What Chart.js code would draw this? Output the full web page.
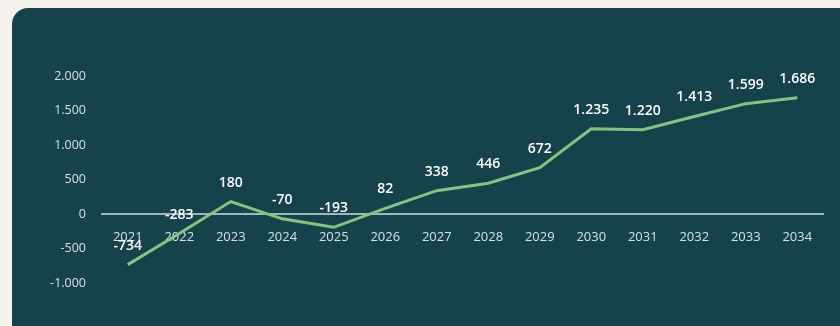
<!DOCTYPE html>
<html lang="de">
<head>
<meta charset="utf-8">
<title>Saldo 2021–2034</title>
<script src="https://cdn.jsdelivr.net/npm/chart.js@4/dist/chart.umd.min.js"></script>
<style>
    html, body {
        margin: 0;
        padding: 0;
        width: 840px;
        height: 326px;
        overflow: hidden;
        background: #f5f3ec;
    }
    /* dunkle Karte hinter dem Diagramm */
    .card {
        position: absolute;
        left: 12px;
        top: 8px;
        width: 860px;
        height: 340px;
        border-radius: 16px;
        background: #16424c;
    }
    #saldoChart {
        position: absolute;
        left: 0;
        top: 0;
    }
</style>
</head>
<body>
<div class="card"></div>
<canvas id="saldoChart" width="840" height="326"></canvas>

<script>
// Daten
const years = ['2021', '2022', '2023', '2024', '2025', '2026', '2027', '2028', '2029', '2030', '2031', '2032', '2033', '2034'];
const saldo = [-734, -283, 180, -70, -193, 82, 338, 446, 672, 1235, 1220, 1413, 1599, 1686];
const yTicks = [-1000, -500, 0, 500, 1000, 1500, 2000];

// Zahlen mit Punkt als Tausendertrennzeichen
const fmt = v => v.toLocaleString('de-DE');

// Werte über die Punkte schreiben
const valueLabels = {
    id: 'valueLabels',
    afterDatasetsDraw(chart) {
        const ctx = chart.ctx;
        const meta = chart.getDatasetMeta(0);
        ctx.save();
        ctx.fillStyle = '#ffffff';
        ctx.font = '600 14px "Open Sans"';
        ctx.textAlign = 'center';
        ctx.textBaseline = 'middle';
        meta.data.forEach((pt, i) => {
            ctx.fillText(fmt(saldo[i]), pt.x, pt.y - 19);
        });
        ctx.restore();
    }
};

const chartEl = document.getElementById('saldoChart');

new Chart(chartEl, {
    type: 'line',
    data: {
        labels: years,
        datasets: [{
            data: saldo,
            borderColor: '#84c380',
            borderWidth: 3,
            pointRadius: 0,
            tension: 0
        }]
    },
    options: {
        responsive: false,
        animation: false,
        layout: {
            padding: { left: 0, right: 17, top: 76, bottom: 43 }
        },
        plugins: {
            legend: { display: false },
            tooltip: { enabled: false }
        },
        scales: {
            x: {
                position: { y: 0 }, // Achse auf der Nulllinie
                offset: true,
                grid: { display: false, drawTicks: false },
                border: { display: true, color: '#9fb6bc', width: 2 },
                ticks: {
                    color: '#d6e0e2',
                    padding: 15,
                    maxRotation: 0,
                    font: { family: 'Open Sans', size: 13 }
                }
            },
            y: {
                min: yTicks[0],
                max: yTicks[yTicks.length - 1],
                afterFit(scale) {
                    scale.width = 102; // feste Breite für die Achsenbeschriftung
                },
                afterBuildTicks(scale) {
                    scale.ticks = yTicks.map(v => ({ value: v }));
                },
                grid: { display: false, drawTicks: false },
                border: { display: false },
                ticks: {
                    color: '#d6e0e2',
                    padding: 16,
                    font: { family: 'Open Sans', size: 12.5 },
                    callback: v => fmt(v)
                }
            }
        }
    },
    plugins: [valueLabels]
});
</script>
</body>
</html>
